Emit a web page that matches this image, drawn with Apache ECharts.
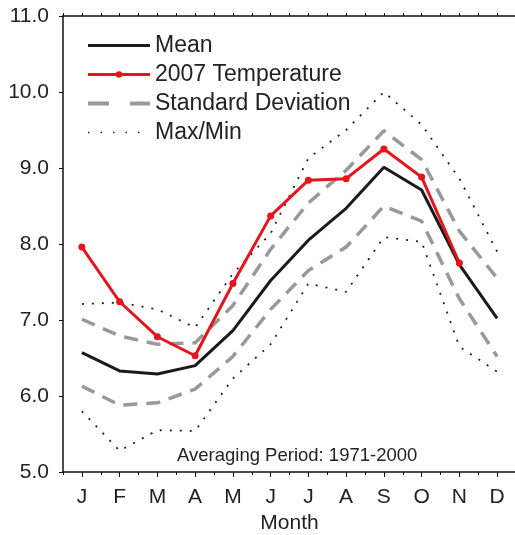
<!DOCTYPE html>
<html><head><meta charset="utf-8">
<script src="https://cdn.jsdelivr.net/npm/echarts@6/dist/echarts.min.js"></script>
<style>html,body{margin:0;padding:0;background:#fff}#c{width:515px;height:535px}</style>
</head><body><div id="c"></div>
<script>
var months = ['J','F','M','A','M','J','J','A','S','O','N','D'];
var yTicks = [5, 6, 7, 8, 9, 10, 11];
var meanVals = [6.57, 6.33, 6.29, 6.40, 6.86, 7.52, 8.05, 8.47, 9.01, 8.71, 7.73, 7.02];
var temp2007 = [7.96, 7.24, 6.78, 6.53, 7.48, 8.37, 8.84, 8.86, 9.25, 8.88, 7.75, null];
var sdUpper = [7.01, 6.79, 6.68, 6.70, 7.19, 7.93, 8.54, 8.97, 9.49, 9.11, 8.17, 7.55];
var sdLower = [6.13, 5.88, 5.91, 6.09, 6.52, 7.14, 7.65, 7.96, 8.50, 8.30, 7.28, 6.52];
var maxVals = [7.21, 7.23, 7.14, 6.90, 7.61, 8.14, 9.13, 9.50, 10.00, 9.57, 8.86, 7.90];
var minVals = [5.80, 5.28, 5.55, 5.54, 6.23, 6.68, 7.48, 7.37, 8.09, 8.03, 6.65, 6.32];
var names = ['Mean', '2007 Temperature', 'Standard Deviation', 'Max/Min'];
var noteText = 'Averaging Period: 1971-2000';

var FONT = '"Liberation Sans", Arial, sans-serif';
var RED = '#e8141c', GRAY = '#999999', BLACK = '#1a1a1a';
var dashType = [14, 9], dotType = [2, 8];

function xAx(pos, align, len, showLine, showLabel, name) {
  return {
    type: 'category', data: months, position: pos, boundaryGap: true,
    axisLine: {show: showLine, onZero: false, lineStyle: {color: '#111', width: 1.5}},
    axisTick: {show: true, alignWithLabel: align, length: len, inside: false, lineStyle: {color: '#111', width: 1}},
    axisLabel: {show: showLabel, color: '#222', fontFamily: FONT, fontSize: 21, margin: 15},
    splitLine: {show: false},
    name: name || '', nameLocation: 'middle', nameGap: 40,
    nameTextStyle: {color: '#222', fontFamily: FONT, fontSize: 21}
  };
}

var chart = echarts.init(document.getElementById('c'), null, {renderer: 'canvas'});
chart.setOption({
  animation: false,
  backgroundColor: '#fff',
  grid: {left: 63, right: -1, top: 16, bottom: 63, containLabel: false, outerBoundsMode: 'none'},
  xAxis: [
    xAx('bottom', true, 5, true, true, 'Month'),
    xAx('bottom', false, 3, false, false),
    xAx('top', true, 3, true, false),
    xAx('top', false, 3, false, false)
  ],
  yAxis: {
    type: 'value', min: yTicks[0], max: yTicks[yTicks.length - 1], interval: 1,
    axisLine: {show: true, lineStyle: {color: '#111', width: 1.5}},
    axisTick: {show: true, length: 4, lineStyle: {color: '#111'}},
    axisLabel: {color: '#222', fontFamily: FONT, fontSize: 21, margin: 14,
      formatter: function (v) { return v.toFixed(1); }},
    splitLine: {show: false}
  },
  legend: {
    orient: 'vertical', left: 86, top: 34, padding: 0, itemWidth: 62, itemHeight: 8, itemGap: 6,
    textStyle: {color: '#222', fontFamily: FONT, fontSize: 23, padding: [0, 0, 0, 0]},
    data: [
      {name: names[0], itemStyle: {opacity: 0}, lineStyle: {width: 3.2, color: BLACK}},
      {name: names[1], lineStyle: {width: 3, color: RED}},
      {name: names[2], itemStyle: {opacity: 0}, lineStyle: {type: [21, 21], width: 4, color: GRAY}},
      {name: names[3], itemStyle: {opacity: 0}, lineStyle: {type: [1.5, 11], width: 1.5, color: '#222'}}
    ]
  },
  graphic: [{
    type: 'text', left: 177, top: 446, z: 10,
    style: {text: noteText, fill: '#222', font: '18.5px ' + FONT}
  }],
  series: [
    {name: names[3], type: 'line', data: maxVals, symbol: 'none', lineStyle: {color: '#222', width: 1.8, type: dotType}, itemStyle: {color: '#222'}},
    {name: names[3], type: 'line', data: minVals, symbol: 'none', lineStyle: {color: '#222', width: 1.8, type: dotType}, itemStyle: {color: '#222'}},
    {name: names[2], type: 'line', data: sdUpper, symbol: 'none', lineStyle: {color: GRAY, width: 3.5, type: dashType}, itemStyle: {color: GRAY}},
    {name: names[2], type: 'line', data: sdLower, symbol: 'none', lineStyle: {color: GRAY, width: 3.5, type: dashType}, itemStyle: {color: GRAY}},
    {name: names[0], type: 'line', data: meanVals, symbol: 'none', lineStyle: {color: BLACK, width: 3}, itemStyle: {color: BLACK}},
    {name: names[1], type: 'line', data: temp2007, symbol: 'circle', symbolSize: 7, showSymbol: true,
      lineStyle: {color: RED, width: 3}, itemStyle: {color: RED}}
  ]
});
</script></body></html>
